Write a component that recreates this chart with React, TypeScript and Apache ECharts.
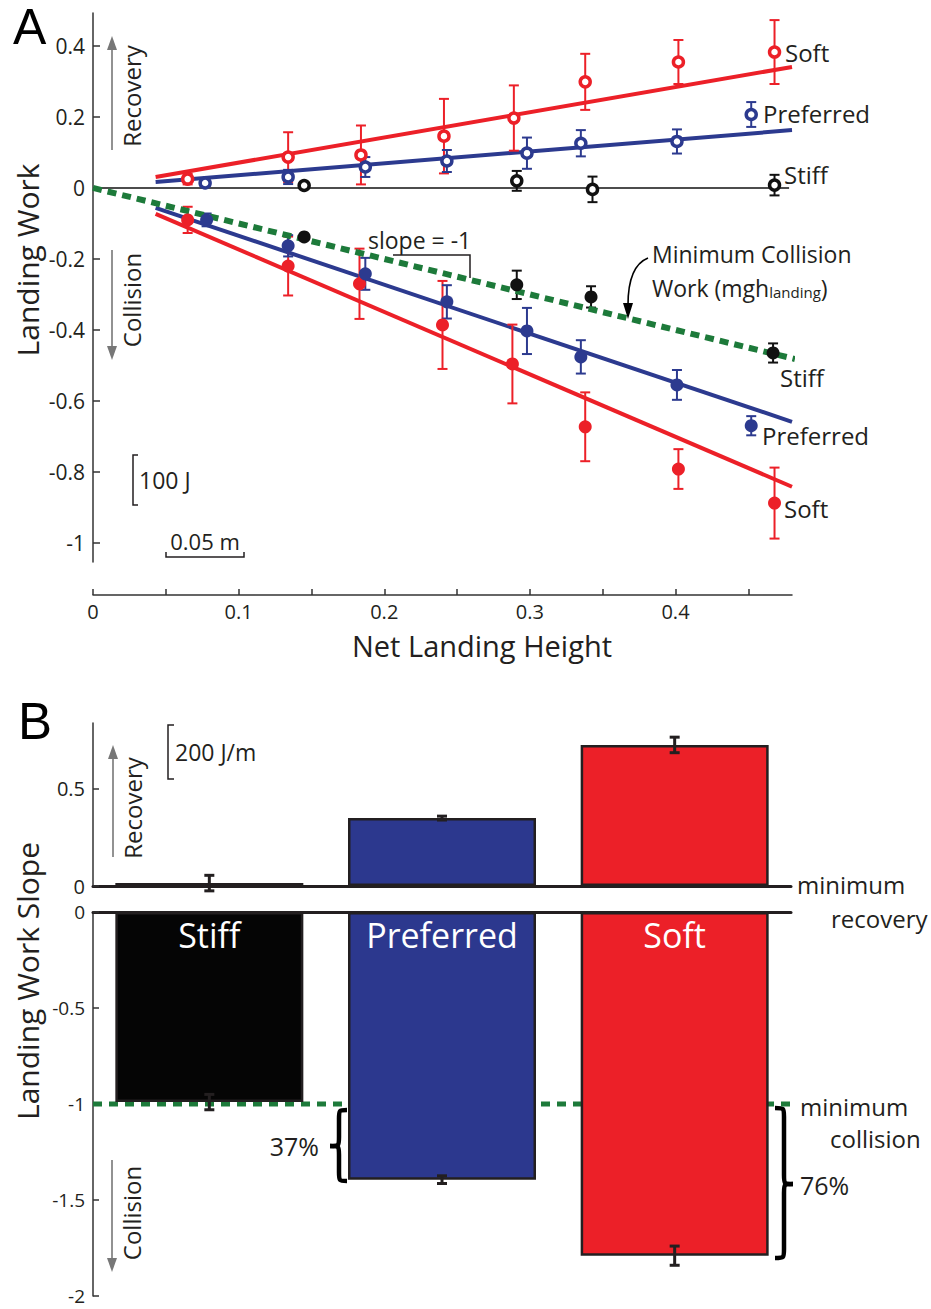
import React, { useEffect, useRef } from 'react';
import * as echarts from 'echarts';

const RED = '#EC2028';
const BLUE = '#2C3A8F';
const BLACK = '#111111';
const GREEN = '#1D7A3A';
const INK = '#231F20';
const GRAY = '#777777';
const FONT = '"Open Sans", "Noto Sans", sans-serif';

// ---------- Panel A data ----------
const xTicksA = [0, 0.05, 0.1, 0.15, 0.2, 0.25, 0.3, 0.35, 0.4, 0.45];
const xLabelsA = [0, 0.1, 0.2, 0.3, 0.4];
const yTicksA = [-1, -0.8, -0.6, -0.4, -0.2, 0, 0.2, 0.4];

const softRecX = [0.065, 0.134, 0.184, 0.241, 0.289, 0.338, 0.402, 0.468];
const softRecY = [0.025, 0.087, 0.093, 0.146, 0.197, 0.299, 0.355, 0.383];
const softRecErr = [0.015, 0.07, 0.083, 0.105, 0.092, 0.079, 0.062, 0.09];

const prefRecX = [0.077, 0.134, 0.187, 0.243, 0.298, 0.335, 0.401, 0.452];
const prefRecY = [0.014, 0.031, 0.059, 0.076, 0.098, 0.126, 0.131, 0.207];
const prefRecErr = [0.008, 0.02, 0.028, 0.031, 0.044, 0.037, 0.034, 0.035];

const stiffRecX = [0.145, 0.291, 0.343, 0.468];
const stiffRecY = [0.007, 0.02, -0.004, 0.008];
const stiffRecErr = [0.006, 0.028, 0.036, 0.029];

const softColX = [0.065, 0.134, 0.183, 0.24, 0.288, 0.338, 0.402, 0.468];
const softColY = [-0.09, -0.22, -0.27, -0.386, -0.496, -0.673, -0.792, -0.888];
const softColErr = [0.037, 0.083, 0.099, 0.124, 0.111, 0.097, 0.056, 0.1];

const prefColX = [0.078, 0.134, 0.187, 0.243, 0.298, 0.335, 0.401, 0.452];
const prefColY = [-0.09, -0.163, -0.242, -0.321, -0.403, -0.476, -0.555, -0.67];
const prefColErr = [0.018, 0.03, 0.045, 0.047, 0.065, 0.047, 0.042, 0.027];

const stiffColX = [0.145, 0.291, 0.342, 0.467];
const stiffColY = [-0.138, -0.273, -0.307, -0.465];
const stiffColErr = [0.008, 0.04, 0.03, 0.027];

const softRecFit = [[0.043, 0.031], [0.48, 0.341]];
const prefRecFit = [[0.043, 0.017], [0.48, 0.163]];
const softColFit = [[0.043, -0.073], [0.48, -0.842]];
const prefColFit = [[0.043, -0.056], [0.48, -0.659]];
const zeroLine = [[0, 0], [0.478, 0]];
const minCollisionLine = [[0, 0], [0.482, -0.482]];

// ---------- Panel B data ----------
const conditions = ['Stiff', 'Preferred', 'Soft'];
const conditionColors = ['#050505', '#2C388E', '#EC2028'];
const recoverySlope = [0.015, 0.35, 0.727];
const recoveryErr = [0.04, 0.01, 0.04];
const collisionSlope = [-0.99, -1.394, -1.79];
const collisionErr = [0.04, 0.02, 0.05];
const minCollisionSlope = [[0, -1], [1.012, -1]];
const yTicksBUp = [0, 0.5];
const yTicksBLow = [-2, -1.5, -1, -0.5, 0];

const pts = (xs: number[], ys: number[]) => xs.map((x, i) => [x, ys[i]]);
const errs = (xs: number[], ys: number[], es: number[]) => xs.map((x, i) => [x, ys[i], es[i]]);

function errorSeries(data: number[][], color: string, xi: number, yi: number, capHalf: number, lw: number) {
  return {
    type: 'custom',
    xAxisIndex: xi,
    yAxisIndex: yi,
    z: 3,
    silent: true,
    data,
    encode: { x: 0, y: 1 },
    renderItem: (params: any, api: any) => {
      const x = api.value(0);
      const y = api.value(1);
      const e = api.value(2);
      const hi = api.coord([x, y + e]);
      const lo = api.coord([x, y - e]);
      const st = { stroke: color, lineWidth: lw };
      return {
        type: 'group',
        children: [
          { type: 'line', shape: { x1: hi[0], y1: hi[1], x2: lo[0], y2: lo[1] }, style: st },
          { type: 'line', shape: { x1: hi[0] - capHalf, y1: hi[1], x2: hi[0] + capHalf, y2: hi[1] }, style: st },
          { type: 'line', shape: { x1: lo[0] - capHalf, y1: lo[1], x2: lo[0] + capHalf, y2: lo[1] }, style: st },
        ],
      };
    },
  };
}

function lineSeries(data: number[][], color: string, width: number, type: any = 'solid', z = 2) {
  return {
    type: 'line',
    xAxisIndex: 0,
    yAxisIndex: 0,
    data,
    symbol: 'none',
    showSymbol: false,
    silent: true,
    clip: false,
    z,
    lineStyle: { color, width, type, cap: 'butt' },
  };
}

function openPts(data: number[][], color: string) {
  return {
    type: 'scatter', xAxisIndex: 0, yAxisIndex: 0, data, symbolSize: 10, z: 4, silent: true,
    itemStyle: { color: '#ffffff', borderColor: color, borderWidth: 3.5, opacity: 1 },
  };
}
function filledPts(data: number[][], color: string) {
  return {
    type: 'scatter', xAxisIndex: 0, yAxisIndex: 0, data, symbolSize: 13, z: 4, silent: true,
    itemStyle: { color, opacity: 1 },
  };
}

function txt(text: string, x: number, y: number, size: number, opts: any = {}) {
  const align = opts.align || 'left';
  return {
    type: 'text',
    x,
    y,
    rotation: opts.rotation || 0,
    silent: true,
    style: {
      text,
      fill: opts.fill || INK,
      fontSize: size,
      fontFamily: opts.family || FONT,
      align,
      textAlign: align,
      verticalAlign: 'middle',
      textVerticalAlign: 'middle',
      rich: opts.rich,
    },
  };
}

function poly(points: number[][], color = INK, lw = 1.5) {
  return { type: 'polyline', silent: true, shape: { points }, style: { stroke: color, lineWidth: lw, fill: null } };
}

function arrow(x: number, yFrom: number, yTip: number) {
  const dir = yTip < yFrom ? -1 : 1;
  const headLen = 14;
  return [
    { type: 'line', silent: true, shape: { x1: x, y1: yFrom, x2: x, y2: yTip - dir * headLen + dir * 2 }, style: { stroke: GRAY, lineWidth: 1.6 } },
    {
      type: 'polygon', silent: true,
      shape: { points: [[x - 5, yTip - dir * headLen], [x + 5, yTip - dir * headLen], [x, yTip]] },
      style: { fill: GRAY },
    },
  ];
}

function brace(ex: number, sx: number, tx: number, y1: number, y2: number, ym: number) {
  const r = 9;
  const st = { stroke: '#000', lineWidth: 4.5, fill: null };
  const bz = (a: number[], c1: number[], c2: number[], b: number[]) => ({
    type: 'bezierCurve', silent: true,
    shape: { x1: a[0], y1: a[1], cpx1: c1[0], cpy1: c1[1], cpx2: c2[0], cpy2: c2[1], x2: b[0], y2: b[1] },
    style: st,
  });
  const ln = (a: number[], b: number[]) => ({ type: 'line', silent: true, shape: { x1: a[0], y1: a[1], x2: b[0], y2: b[1] }, style: st });
  return [
    bz([ex, y1], [sx, y1], [sx, y1], [sx, y1 + r]),
    ln([sx, y1 + r], [sx, ym - r]),
    bz([sx, ym - r], [sx, ym], [sx, ym], [tx, ym]),
    bz([tx, ym], [sx, ym], [sx, ym], [sx, ym + r]),
    ln([sx, ym + r], [sx, y2 - r]),
    bz([sx, y2 - r], [sx, y2], [sx, y2], [ex, y2]),
  ];
}

const axisLineStyle = { color: '#333333', width: 1.5 };
const tickLabel = { color: INK, fontSize: 20, fontFamily: FONT, margin: 8 };

export default function App() {
  const ref = useRef<HTMLDivElement>(null);

  useEffect(() => {
    if (!ref.current) return;
    const chart = echarts.init(ref.current, null, { renderer: 'svg' });

    const grids = [
      { left: 93, top: 13, width: 699, height: 549 },
      { left: 93, top: 723, width: 698, height: 163 },
      { left: 93, top: 912, width: 698, height: 384 },
    ];

    const xAxes = [
      {
        type: 'value', gridIndex: 0, min: 0, max: 0.48, position: 'bottom', offset: 33,
        axisLine: { show: true, onZero: false, lineStyle: axisLineStyle },
        axisTick: { show: true, inside: true, length: 6, customValues: xTicksA, lineStyle: axisLineStyle },
        axisLabel: { ...tickLabel, margin: 6, lineHeight: 20, customValues: xLabelsA, formatter: (v: number) => String(v) },
        splitLine: { show: false },
      },
      {
        type: 'category', gridIndex: 1, data: conditions, position: 'bottom',
        axisLine: { show: true, onZero: false, lineStyle: { color: INK, width: 3 } },
        axisTick: { show: false }, axisLabel: { show: false }, splitLine: { show: false },
      },
      {
        type: 'category', gridIndex: 2, data: conditions, position: 'top',
        axisLine: { show: true, onZero: false, lineStyle: { color: INK, width: 3 } },
        axisTick: { show: false }, axisLabel: { show: false }, splitLine: { show: false },
      },
      {
        type: 'value', gridIndex: 2, min: 0, max: 1, show: false,
      },
    ];

    const yAxes = [
      {
        type: 'value', gridIndex: 0, min: -1.054, max: 0.493,
        axisLine: { show: true, onZero: false, lineStyle: axisLineStyle },
        axisTick: { show: true, inside: true, length: 7, customValues: yTicksA, lineStyle: axisLineStyle },
        axisLabel: { ...tickLabel, fontSize: 21, customValues: yTicksA, formatter: (v: number) => String(v) },
        splitLine: { show: false },
      },
      {
        type: 'value', gridIndex: 1, min: 0, max: 0.84,
        axisLine: { show: true, onZero: false, lineStyle: axisLineStyle },
        axisTick: { show: true, inside: true, length: 6, customValues: yTicksBUp, lineStyle: axisLineStyle },
        axisLabel: { ...tickLabel, customValues: yTicksBUp, formatter: (v: number) => String(v) },
        splitLine: { show: false },
      },
      {
        type: 'value', gridIndex: 2, min: -2, max: 0,
        axisLine: { show: true, onZero: false, lineStyle: axisLineStyle },
        axisTick: { show: true, inside: true, length: 6, customValues: yTicksBLow, lineStyle: axisLineStyle },
        axisLabel: { ...tickLabel, fontSize: 19, lineHeight: 16, customValues: yTicksBLow, formatter: (v: number) => String(v) },
        splitLine: { show: false },
      },
    ];

    const barItems = (vals: number[]) =>
      vals.map((v, i) => ({ value: v, itemStyle: { color: conditionColors[i] } }));

    const series: any[] = [
      lineSeries(zeroLine, BLACK, 1.5),
      lineSeries(softRecFit, RED, 4),
      lineSeries(prefRecFit, BLUE, 4),
      lineSeries(softColFit, RED, 4),
      lineSeries(prefColFit, BLUE, 4),
      lineSeries(minCollisionLine, GREEN, 6, [9, 6], 3),
      errorSeries(errs(softRecX, softRecY, softRecErr), RED, 0, 0, 5, 2),
      errorSeries(errs(prefRecX, prefRecY, prefRecErr), BLUE, 0, 0, 5, 2),
      errorSeries(errs(stiffRecX, stiffRecY, stiffRecErr), BLACK, 0, 0, 5, 2),
      errorSeries(errs(softColX, softColY, softColErr), RED, 0, 0, 5, 2),
      errorSeries(errs(prefColX, prefColY, prefColErr), BLUE, 0, 0, 5, 2),
      errorSeries(errs(stiffColX, stiffColY, stiffColErr), BLACK, 0, 0, 5, 2),
      openPts(pts(softRecX, softRecY), RED),
      openPts(pts(prefRecX, prefRecY), BLUE),
      openPts(pts(stiffRecX, stiffRecY), BLACK),
      filledPts(pts(softColX, softColY), RED),
      filledPts(pts(prefColX, prefColY), BLUE),
      filledPts(pts(stiffColX, stiffColY), BLACK),
      // Panel B
      {
        type: 'line', xAxisIndex: 3, yAxisIndex: 2, data: minCollisionSlope, symbol: 'none', showSymbol: false,
        clip: false, silent: true, z: 1,
        lineStyle: { color: GREEN, width: 5, type: [9, 7], cap: 'butt' },
      },
      {
        type: 'bar', xAxisIndex: 1, yAxisIndex: 1, data: barItems(recoverySlope), barWidth: 188, z: 2, silent: true,
        itemStyle: { borderColor: INK, borderWidth: 2.5 },
      },
      {
        type: 'bar', xAxisIndex: 2, yAxisIndex: 2, data: barItems(collisionSlope), barWidth: 188, z: 2, silent: true,
        itemStyle: { borderColor: INK, borderWidth: 2.5 },
        label: {
          show: true, position: 'insideTop', distance: 6, formatter: '{b}', color: '#ffffff',
          fontSize: 34, fontFamily: FONT,
        },
      },
      errorSeries(conditions.map((_, i) => [i, recoverySlope[i], recoveryErr[i]]), INK, 1, 1, 5, 3),
      errorSeries(conditions.map((_, i) => [i, collisionSlope[i], collisionErr[i]]), INK, 2, 2, 5, 3),
    ];

    const graphic: any[] = [
      // Panel A
      txt('A', 13, 27, 50, { family: '"Liberation Sans", Arial, sans-serif', fill: '#000' }),
      txt('Landing Work', 27, 260, 30, { align: 'center', rotation: Math.PI / 2 }),
      txt('Net Landing Height', 482, 645, 29, { align: 'center' }),
      txt('Recovery', 131, 96, 24, { align: 'center', rotation: Math.PI / 2 }),
      ...arrow(112, 150, 36),
      txt('Collision', 131, 300, 24, { align: 'center', rotation: Math.PI / 2 }),
      ...arrow(112, 250, 360),
      txt('slope = -1', 368, 240, 23),
      poly([[393, 255], [470, 255], [470, 278]]),
      txt('Minimum Collision', 652, 254, 23),
      txt('Work (mgh{s|landing})', 652, 288, 23, {
        rich: { s: { fontSize: 15, fontFamily: FONT, fill: INK, lineHeight: 4, verticalAlign: 'bottom' } },
      }),
      { type: 'bezierCurve', silent: true, shape: { x1: 648, y1: 258, cpx1: 633, cpy1: 264, cpx2: 628, cpy2: 284, x2: 628, y2: 305 }, style: { stroke: '#000', lineWidth: 1.6, fill: null } },
      { type: 'polygon', silent: true, shape: { points: [[623, 303], [633, 303], [628, 319]] }, style: { fill: '#000' } },
      txt('Soft', 785, 52, 24),
      txt('Preferred', 763, 113, 24),
      txt('Stiff', 784, 174, 24),
      txt('Stiff', 780, 377, 24),
      txt('Preferred', 762, 435, 24),
      txt('Soft', 784, 508, 24),
      poly([[138, 455], [133, 455], [133, 505], [138, 505]]),
      txt('100 J', 139, 480, 23),
      poly([[166, 552], [166, 557], [244, 557], [244, 552]]),
      txt('0.05 m', 205, 541, 22, { align: 'center' }),
      // Panel B
      txt('B', 18, 721, 51, { family: '"Liberation Sans", Arial, sans-serif', fill: '#000' }),
      txt('Landing Work Slope', 27, 981, 30, { align: 'center', rotation: Math.PI / 2 }),
      txt('Recovery', 132, 808, 24, { align: 'center', rotation: Math.PI / 2 }),
      ...arrow(113, 857, 745),
      txt('Collision', 131, 1213, 24, { align: 'center', rotation: Math.PI / 2 }),
      ...arrow(112, 1160, 1272),
      poly([[174, 725], [168, 725], [168, 779], [174, 779]]),
      txt('200 J/m', 175, 752, 23),
      txt('minimum', 797, 884, 24),
      txt('recovery', 831, 918, 24),
      txt('minimum', 800, 1106, 24),
      txt('collision', 830, 1138, 24),
      txt('37%', 319, 1146, 25, { align: 'right' }),
      txt('76%', 800, 1185, 25),
      ...brace(347, 339, 330, 1110, 1181, 1146),
      ...brace(775, 784, 793, 1108, 1258, 1184),
    ];

    chart.setOption({
      animation: false,
      backgroundColor: '#ffffff',
      textStyle: { fontFamily: FONT },
      grid: grids,
      xAxis: xAxes,
      yAxis: yAxes,
      series,
      graphic,
    });

    return () => chart.dispose();
  }, []);

  return (
    <div
      ref={ref}
      style={{ position: 'absolute', left: 0, top: 0, width: 931, height: 1309, background: '#fff' }}
    />
  );
}
